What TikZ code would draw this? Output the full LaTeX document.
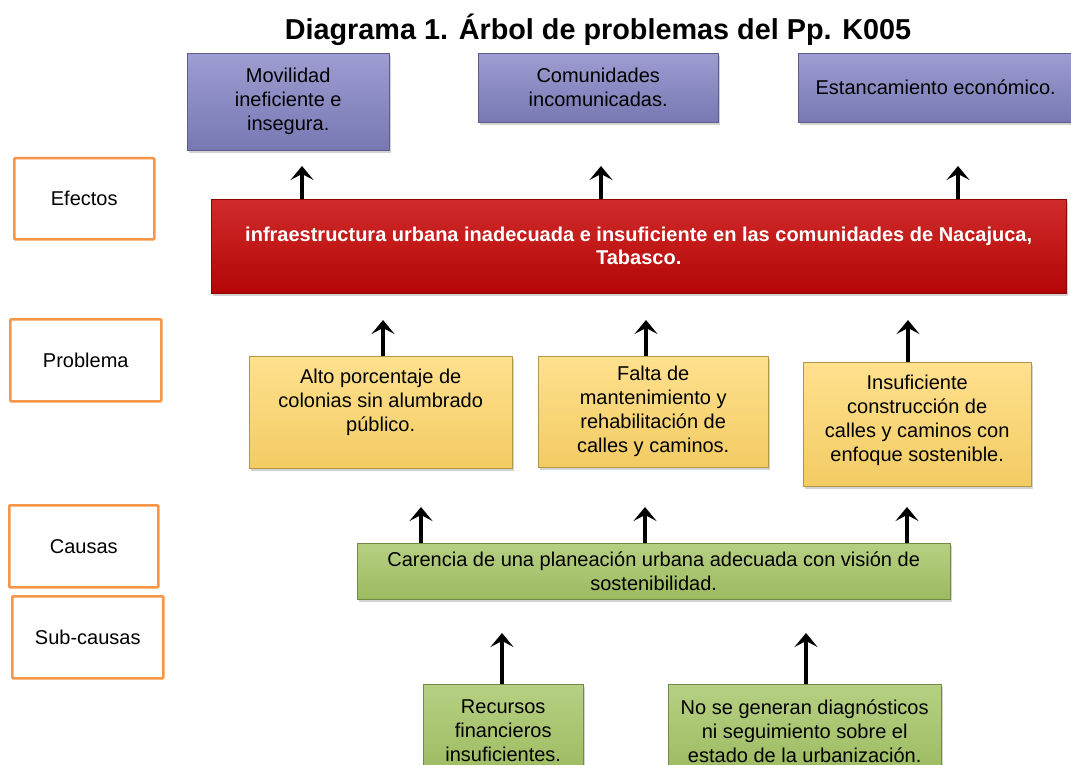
\documentclass[tikz,border=0pt]{standalone}
\usepackage{fontspec}
\setmainfont{Liberation Sans}
\usetikzlibrary{arrows.meta,shadows}
\definecolor{efecto}{RGB}{133,133,199}
\definecolor{problema}{RGB}{200,6,6}
\definecolor{causa}{RGB}{255,214,104}
\definecolor{subcausa}{RGB}{164,196,100}
\definecolor{marco}{RGB}{247,150,70}
\begin{document}
\begin{tikzpicture}[x=1pt,y=-1pt]
\tikzstyle{caja}=[draw, thin, anchor=north west, align=center, inner sep=4pt,
                  font=\fontsize{20}{24}\selectfont,
                  drop shadow={opacity=.35, shadow xshift=2pt, shadow yshift=-3pt}]
\tikzstyle{etq}=[draw=marco, line width=2.5pt, rounded corners=1pt, fill=white, anchor=north west,
                 font=\fontsize{20}{24}\selectfont]
\tikzstyle{flecha}=[line width=3.5pt, -{Stealth[length=14pt, width=23pt, inset=6pt]}]
\useasboundingbox (0,0) rectangle (1071,765);
\clip (0,0) rectangle (1071,765);
\node[font=\bfseries\fontsize{28.8}{30}\selectfont] (titulo) at (598,30) {Diagrama 1. Árbol de problemas del Pp. K005};
% efectos
\node[caja, top color=efecto!80!white, bottom color=efecto!90!black, draw=efecto!70!black, minimum width=202, minimum height=97] (mov) at (187,53) {Movilidad\\ineficiente e\\insegura.};
\node[caja, top color=efecto!80!white, bottom color=efecto!90!black, draw=efecto!70!black, minimum width=240, minimum height=69] (com) at (478,53) {Comunidades\\incomunicadas.};
\node[caja, top color=efecto!80!white, bottom color=efecto!90!black, draw=efecto!70!black, minimum width=285, minimum height=69] (est) at (798,53) {Estancamiento económico.\hspace*{10pt}};
% etiquetas
\node[etq, minimum width=140, minimum height=81] (efe) at (13,157) {Efectos};
\node[etq, minimum width=151, minimum height=82] (pro) at (9,318) {Problema};
\node[etq, minimum width=149, minimum height=82] (cau) at (8,504) {Causas};
\node[etq, minimum width=151, minimum height=82] (sub) at (11,595) {Sub-causas};
% problema central
\node[caja, top color=problema!85!white, bottom color=problema!90!black, draw=problema!70!black, text=white, minimum width=855, minimum height=94,
      font=\bfseries\fontsize{20}{23}\selectfont] (red) at (211,199) {infraestructura urbana inadecuada e insuficiente en las comunidades de Nacajuca,\\Tabasco.};
% causas
\node[caja, top color=causa!75!white, bottom color=causa!95!black, draw=causa!70!black, minimum width=263, minimum height=112] (alto) at (249,356) {Alto porcentaje de\\colonias sin alumbrado\\público.\\\mbox{}};
\node[caja, top color=causa!75!white, bottom color=causa!95!black, draw=causa!70!black, minimum width=230, minimum height=111] (falta) at (538,356) {Falta de\\mantenimiento y\\rehabilitación de\\calles y caminos.};
\node[caja, top color=causa!75!white, bottom color=causa!95!black, draw=causa!70!black, minimum width=228, minimum height=124] (insu) at (803,362) {Insuficiente\\construcción de\\calles y caminos con\\enfoque sostenible.\\[-12pt]\mbox{}};
% sub-causas
\node[caja, top color=subcausa!80!white, bottom color=subcausa!95!black, draw=subcausa!70!black, minimum width=593, minimum height=56] (car) at (357,543) {Carencia de una planeación urbana adecuada con visión de\\sostenibilidad.};
\node[caja, top color=subcausa!80!white, bottom color=subcausa!95!black, draw=subcausa!70!black, minimum width=160, minimum height=94] (rec) at (423,684) {Recursos\\financieros\\insuficientes.};
\node[caja, top color=subcausa!80!white, bottom color=subcausa!95!black, draw=subcausa!70!black, minimum width=273, minimum height=94] (nose) at (668,684) {No se generan diagnósticos\\ni seguimiento sobre el\\estado de la urbanización.};
% flechas
\foreach \n/\x/\y in {red/302/166, red/601/166, red/958/166, alto/383/320, falta/646/320, insu/908/320,
                      car/421/507, car/645/507, car/907/507, rec/502/633, nose/806/633}{\draw[flecha] (\n.north -| \x,0) -- (\x,\y);}
\end{tikzpicture}
\end{document}
